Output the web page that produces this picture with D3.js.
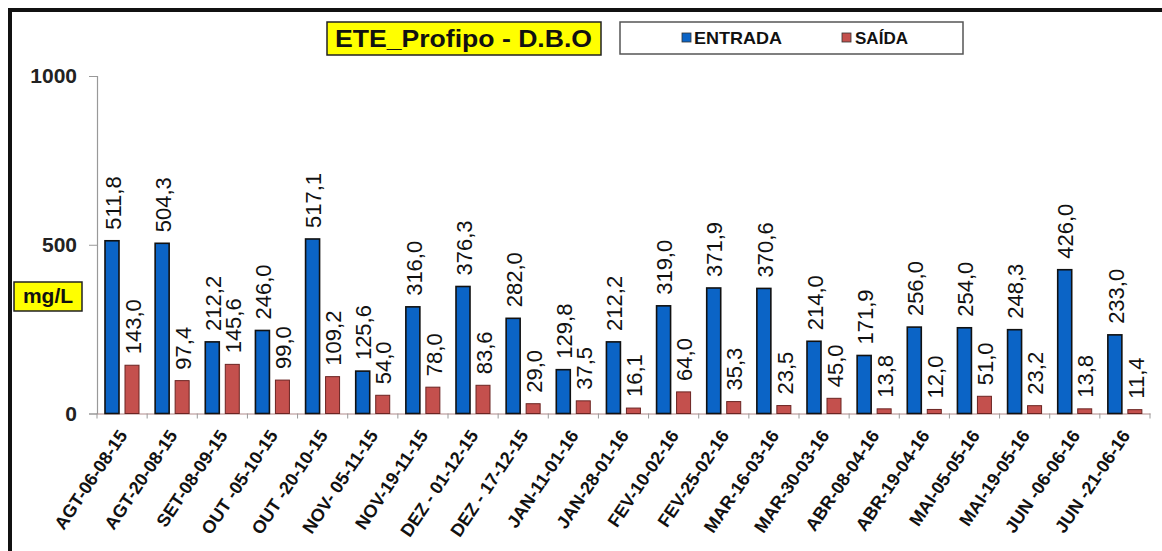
<!DOCTYPE html>
<html><head><meta charset="utf-8">
<script src="https://cdn.jsdelivr.net/npm/d3@7"></script>
<style>
html,body{margin:0;padding:0;background:#fff;}
svg{display:block;font-family:"Liberation Sans",Arial,sans-serif;}
</style></head>
<body><svg id="c" width="1162" height="551"></svg>
<script>
const categories = ["AGT-06-08-15","AGT-20-08-15","SET-08-09-15","OUT -05-10-15","OUT -20-10-15","NOV- 05-11-15","NOV-19-11-15","DEZ - 01-12-15","DEZ - 17-12-15","JAN-11-01-16","JAN-28-01-16","FEV-10-02-16","FEV-25-02-16","MAR-16-03-16","MAR-30-03-16","ABR-08-04-16","ABR-19-04-16","MAI-05-05-16","MAI-19-05-16","JUN -06-06-16","JUN -21-06-16"];
const entrada = [511.8,504.3,212.2,246.0,517.1,125.6,316.0,376.3,282.0,129.8,212.2,319.0,371.9,370.6,214.0,171.9,256.0,254.0,248.3,426.0,233.0];
const saida = [143.0,97.4,145.6,99.0,109.2,54.0,78.0,83.6,29.0,37.5,16.1,64.0,35.3,23.5,45.0,13.8,12.0,51.0,23.2,13.8,11.4];
const seriesNames = ["ENTRADA","SAÍDA"];
const yTicks = [0,500,1000];
const titleText = "ETE_Profipo - D.B.O";
const unitText = "mg/L";

const colors = {"ENTRADA":"#0b64c6","SAÍDA":"#c4504d"};
const strokes = {"ENTRADA":"#111","SAÍDA":"#6b2422"};

const svg = d3.select("#c");
const pLeft = 97, pRight = 1150, pTop = 76, pBottom = 413.5;

// outer frame
svg.append("path").attr("d","M10,560V10H1170").attr("fill","none").attr("stroke","#111").attr("stroke-width",4);

const x = d3.scaleBand().domain(categories).range([pLeft,pRight]).padding(0);
const xs = d3.scaleBand().domain(seriesNames).range([8,42]).paddingInner(0.3);
const y = d3.scaleLinear().domain([0,1000]).range([pBottom,pTop]);

// y axis
const ya = svg.append("g").attr("transform",`translate(${pLeft},0)`)
  .call(d3.axisLeft(y).tickValues(yTicks).tickSize(8).tickFormat(d3.format("d")));
ya.select(".domain").attr("stroke","#999").attr("stroke-width",1.2);
ya.selectAll(".tick line").attr("stroke","#999");
ya.selectAll(".tick text").attr("font-size",21).attr("font-weight","bold").attr("fill","#222")
  .attr("font-family","Liberation Sans, Arial, sans-serif").attr("x",-20);

// x axis
const xa = svg.append("g").attr("transform",`translate(0,${pBottom})`)
  .call(d3.axisBottom(x).tickSize(0).tickFormat(""));
xa.select(".domain").attr("stroke","#b08a8a").attr("stroke-width",1.2);
const bounds = categories.map(c=>x(c)).concat([pRight]);
svg.append("g").selectAll("line").data(bounds).join("line")
  .attr("x1",d=>d).attr("x2",d=>d).attr("y1",pBottom).attr("y2",pBottom+5)
  .attr("stroke","#999").attr("stroke-width",1);

// x labels
svg.append("g").selectAll("text").data(categories).join("text")
  .attr("transform",d=>`translate(${x(d)+x.bandwidth()/2+6},${pBottom+22}) rotate(-56)`)
  .attr("text-anchor","end")
  .attr("font-size",18).attr("font-weight","bold").attr("fill","#111")
  .text(d=>d);

// bars
const rows = categories.map((c,i)=>({c, vals:[{k:"ENTRADA",v:entrada[i]},{k:"SAÍDA",v:saida[i]}]}));
const fmt = v => d3.format(".1f")(v).replace(".",",");
const g = svg.append("g").selectAll("g").data(rows).join("g")
  .attr("transform",d=>`translate(${x(d.c)},0)`);
g.selectAll("rect").data(d=>d.vals).join("rect")
  .attr("x",d=>xs(d.k)).attr("width",xs.bandwidth())
  .attr("y",d=>y(d.v)).attr("height",d=>pBottom-y(d.v))
  .attr("fill",d=>colors[d.k]).attr("stroke",d=>strokes[d.k])
  .attr("stroke-width",d=>d.k==="ENTRADA"?1.6:1);
g.selectAll("text").data(d=>d.vals).join("text")
  .attr("transform",d=>`translate(${xs(d.k)+xs.bandwidth()/2+1},${y(d.v)-11}) rotate(-90)`)
  .attr("dy","0.35em")
  .attr("text-anchor","start")
  .attr("font-size",22).attr("fill","#111")
  .text(d=>fmt(d.v));

// title box
svg.append("rect").attr("x",327).attr("y",22).attr("width",274).attr("height",33)
  .attr("fill","#ffff00").attr("stroke","#222").attr("stroke-width",1.5);
svg.append("text").attr("x",335).attr("y",47).attr("font-size",24).attr("font-weight","bold")
  .attr("textLength",257).attr("lengthAdjust","spacingAndGlyphs").attr("fill","#111").text(titleText);

// legend
svg.append("rect").attr("x",620).attr("y",22).attr("width",343).attr("height",32)
  .attr("fill","#fff").attr("stroke","#555").attr("stroke-width",1.5);
const legPos = [{k:"ENTRADA",sx:682,tx:694,w:88},{k:"SAÍDA",sx:842,tx:855,w:53}];
legPos.forEach(p=>{
  svg.append("rect").attr("x",p.sx).attr("y",33).attr("width",9).attr("height",9)
    .attr("fill",colors[p.k]).attr("stroke","#333").attr("stroke-width",0.8);
  svg.append("text").attr("x",p.tx).attr("y",44).attr("font-size",17).attr("font-weight","bold")
    .attr("textLength",p.w).attr("lengthAdjust","spacingAndGlyphs").attr("fill","#111").text(p.k);
});

// unit box
svg.append("rect").attr("x",14).attr("y",282).attr("width",68).attr("height",29)
  .attr("fill","#ffff00").attr("stroke","#222").attr("stroke-width",1.5);
svg.append("text").attr("x",48).attr("y",303).attr("text-anchor","middle").attr("font-size",21)
  .attr("font-weight","bold").attr("fill","#111").text(unitText);
</script></body></html>
